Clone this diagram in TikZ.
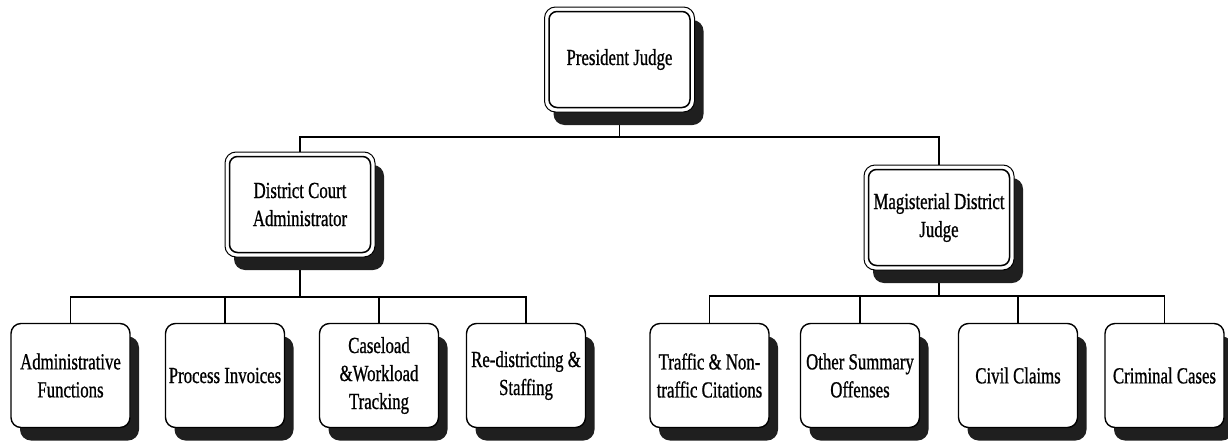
\documentclass[tikz,border=0pt]{standalone}
\usepackage{fontspec}
\newfontfamily\labelfont[FakeStretch=0.73, FakeBold=0.8]{Liberation Serif}
\usetikzlibrary{backgrounds}

\tikzset{
  txt/.style={font=\labelfont\fontsize{23}{28}\selectfont, align=center},
  topbox/.style={txt, draw, line width=1.5pt, fill=white, rounded corners=8pt,
    minimum width=141pt, minimum height=96pt, outer sep=0pt, inner sep=0pt},
  leafbox/.style={txt, draw, line width=1.4pt, fill=white, rounded corners=10pt,
    minimum width=119pt, minimum height=104pt, outer sep=0pt, inner sep=0pt},
  link/.style={line width=1.3pt},
  shade/.style={fill=black!88, rounded corners=11pt},
  frame/.style={draw, fill=white, line width=1pt, rounded corners=11pt},
}

\begin{document}
\begin{tikzpicture}[x=1pt, y=-1pt]
  \useasboundingbox (0,0) rectangle (1228,442);

  % head of the court
  \node[topbox] (pj)  at (619.5, 59.5)  {President Judge};
  % second level
  \node[topbox] (dca) at (300, 204.5)   {District Court\\Administrator};
  \node[topbox] (mdj) at (939, 217.5)   {Magisterial District\\Judge};

  % administrator's tasks
  \node[leafbox] (adm) at (70.5, 375.5) {Administrative\\Functions};
  \node[leafbox] (inv) at (225, 375.5)  {Process Invoices};
  \node[leafbox] (cwt) at (379, 375.5)  {Caseload\\\&Workload\\Tracking};
  \node[leafbox] (red) at (526, 375.5)  {Re-districting \&\\Staffing};

  % district judge's cases
  \node[leafbox] (trf) at (709.5, 375.5) {Traffic \& Non-\\traffic Citations};
  \node[leafbox] (oso) at (860, 375.5)   {Other Summary\\Offenses};
  \node[leafbox] (civ) at (1018, 375.5)  {Civil Claims};
  \node[leafbox] (crm) at (1164.5, 375.5){Criminal Cases};

  % bus points of the tree
  \coordinate (bus0) at (619.5, 137);
  \coordinate (bus1) at (300, 297);
  \coordinate (bus2) at (939, 296);

  \begin{scope}[on background layer]
    % connectors
    \draw[link] (pj.south) -- (bus0);
    \draw[link] (dca.north) -- (dca.north |- bus0) -| (mdj.north);

    \draw[link] (dca.south) -- (bus1);
    \draw[link] (adm.north) -- (adm.north |- bus1) -| (red.north);
    \draw[link] (inv.north) -- (inv.north |- bus1);
    \draw[link] (cwt.north) -- (cwt.north |- bus1);

    \draw[link] (mdj.south) -- (bus2);
    \draw[link] (trf.north) -- (trf.north |- bus2) -| (crm.north);
    \draw[link] (oso.north) -- (oso.north |- bus2);
    \draw[link] (civ.north) -- (civ.north |- bus2);

    % drop shadows of the leaf boxes
    \foreach \n in {adm,inv,cwt,red,trf,oso,civ,crm}
      \fill[shade] ([shift={(9,13)}]\n.north west) rectangle ([shift={(9,13)}]\n.south east);

    % drop shadows and outer frames of the double-bordered boxes
    \foreach \n in {pj,dca,mdj} {
      \fill[shade] ([shift={(4.5,8.5)}]\n.north west) rectangle ([shift={(13.5,17.5)}]\n.south east);
      \draw[frame] ([shift={(-4.5,-4.5)}]\n.north west) rectangle ([shift={(4.5,4.5)}]\n.south east);
    }
  \end{scope}
\end{tikzpicture}
\end{document}
